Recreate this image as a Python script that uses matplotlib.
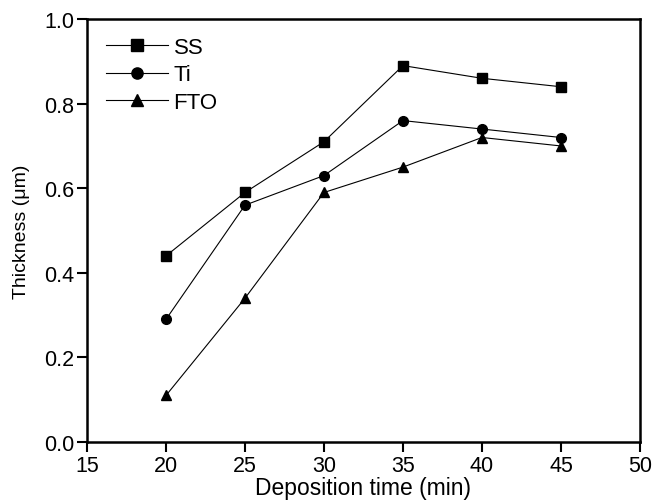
import matplotlib
matplotlib.use("Agg")
import matplotlib.pyplot as plt

# deposition times (min) and film thickness (um) per substrate
times = [20, 25, 30, 35, 40, 45]
ss = [0.44, 0.59, 0.71, 0.89, 0.86, 0.84]
ti = [0.29, 0.56, 0.63, 0.76, 0.74, 0.72]
fto = [0.11, 0.34, 0.59, 0.65, 0.72, 0.70]

plt.rcParams["font.family"] = ["Liberation Sans", "DejaVu Sans"]

fig = plt.figure(figsize=(6.53, 5.02), dpi=100)
ax = fig.add_axes([0.1332, 0.1175, 0.8468, 0.8425])

style = dict(color="black", linewidth=0.8, markersize=7)
ax.plot(times, ss, marker="s", label="SS", **style)
ax.plot(times, ti, marker="o", label="Ti", **style)
ax.plot(times, fto, marker="^", label="FTO", **style)

ax.set_xlim(15, 50)
ax.set_ylim(0, 1.0)
ax.set_xticks(range(15, 51, 5))
ax.set_yticks([0.0, 0.2, 0.4, 0.6, 0.8, 1.0])
ax.yaxis.set_major_formatter(matplotlib.ticker.FormatStrFormatter("%.1f"))

for s in ax.spines.values():
    s.set_linewidth(1.8)
ax.tick_params(direction="out", length=7, width=1.5, labelsize=15.5, pad=2)

ax.set_xlabel("Deposition time (min)", fontsize=16.5, labelpad=0)
ax.set_ylabel("Thickness (\u03bcm)", fontsize=14, labelpad=10)

ax.legend(loc="upper left", frameon=False, fontsize=16, handlelength=2.8,
          handletextpad=0.25, labelspacing=0.3, borderaxespad=0.2,
          markerscale=1.15, bbox_to_anchor=(0.01, 0.99))

fig.savefig("out.png", dpi=100)
